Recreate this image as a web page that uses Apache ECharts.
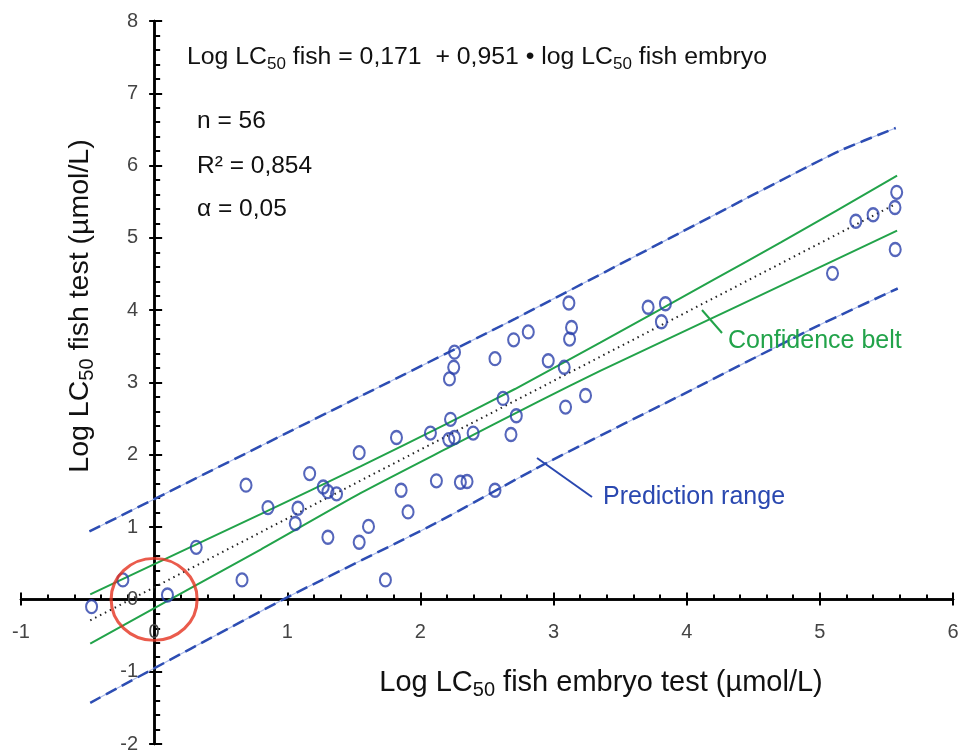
<!DOCTYPE html>
<html>
<head>
<meta charset="utf-8">
<script src="https://cdn.jsdelivr.net/npm/echarts@6/dist/echarts.min.js"></script>
<style>
  html, body { margin: 0; padding: 0; background: #fff; }
  #main { width: 960px; height: 753px; }
</style>
</head>
<body>
<div id="main"></div>
<script>
// axis ranges / ticks
var xRange = [-1, 6];
var yRange = [-2, 8];
var tickStep = 1;

// measured points: log LC50 fish embryo test vs log LC50 fish test
var embryoX = [-0.47, -0.235, 0.10, 0.316, 0.66, 0.69, 0.855, 1.06, 1.08, 1.168,
  1.27, 1.305, 1.37, 1.305, 1.54, 1.54, 1.61, 1.737, 1.82, 1.855,
  1.907, 2.075, 2.12, 2.256, 2.25, 2.218, 2.56, 2.70, 2.81, 3.135,
  3.12, 2.96, 3.08, 3.24, 3.09, 2.62, 2.72, 2.68, 2.226, 2.213,
  2.256, 2.396, 2.30, 2.35, 2.56, 3.115, 3.71, 3.84, 3.81, 5.577,
  5.564, 5.40, 5.27, 5.566, 5.095];
var fishY = [-0.10, 0.27, 0.06, 0.72, 0.27, 1.58, 1.27, 1.05, 1.26, 1.74,
  1.555, 1.49, 1.46, 0.86, 2.03, 0.79, 1.01, 0.27, 2.24, 1.51,
  1.21, 2.30, 1.64, 3.42, 3.21, 3.05, 3.33, 3.59, 3.70, 3.76,
  3.60, 3.30, 3.21, 2.82, 2.66, 2.78, 2.54, 2.28, 2.49, 2.21,
  2.24, 2.30, 1.62, 1.63, 1.51, 4.10, 4.04, 4.09, 3.84, 5.63,
  5.42, 5.32, 5.23, 4.84, 4.51];

// regression line (ends)
var regX = [-0.48, 5.55];
var regY = [-0.29, 5.45];

// confidence belt
var confUpperX = [-0.48, 0.80, 1.55, 2.20, 2.71, 3.35, 4.20, 4.71, 5.58];
var confUpperY = [0.07, 1.18, 1.84, 2.43, 2.91, 3.55, 4.42, 4.94, 5.86];
var confLowerX = [-0.48, 0.80, 1.55, 2.20, 2.90, 3.35, 4.41, 5.58];
var confLowerY = [-0.61, 0.69, 1.47, 2.09, 2.75, 3.16, 4.08, 5.10];

// prediction range
var predUpperX = [-0.486, 1.55, 2.71, 3.96, 5.12, 5.57];
var predUpperY = [0.94, 2.81, 3.88, 5.08, 6.18, 6.52];
var predLowerX = [-0.48, 0.97, 2.10, 2.95, 4.105, 4.98, 5.585];
var predLowerY = [-1.43, 0.0, 1.04, 1.89, 2.96, 3.78, 4.30];

// highlighted origin
var originPt = [0, 0];

function zip(a, b) {
  return a.map(function(v, i) { return [v, b[i]]; });
}

var FONT = '"Liberation Sans", Arial, sans-serif';
var W = 960, H = 753;
var gridL = 21, gridR = 7, gridT = 21, gridB = 9;
var plotW = W - gridL - gridR, plotH = H - gridT - gridB;
// where the zero lines sit inside the plot (axes cross at the origin)
var zeroFromLeft = (0 - xRange[0]) / (xRange[1] - xRange[0]) * plotW;
var zeroFromBottom = (0 - yRange[0]) / (yRange[1] - yRange[0]) * plotH;

var chart = echarts.init(document.getElementById('main'));

function richLC(color, size, subSize) {
  return {
    m: { fontSize: size, fontFamily: FONT, fill: color, color: color, lineHeight: size + 6, verticalAlign: 'middle' },
    s: { fontSize: subSize, fontFamily: FONT, fill: color, color: color, lineHeight: subSize + 6, verticalAlign: 'bottom' }
  };
}

function txt(x, y, text, opts) {
  opts = opts || {};
  var color = opts.color || '#111';
  var size = opts.size || 20;
  return {
    type: 'text',
    x: x, y: y,
    rotation: opts.rotation || 0,
    z: 100,
    style: {
      text: text,
      rich: richLC(color, size, opts.sub || Math.round(size * 0.7)),
      fontSize: size, fontFamily: FONT, fill: color,
      align: opts.align || 'left', textAlign: opts.align || 'left',
      verticalAlign: 'middle', textVerticalAlign: 'middle'
    }
  };
}

var axisLineStyle = { color: '#000', width: 2.5 };
var tickLineStyle = { color: '#000', width: 2 };

var option = {
  backgroundColor: '#fff',
  animation: false,
  grid: { left: gridL, right: gridR, top: gridT, bottom: gridB, containLabel: false, outerBoundsMode: 'none' },
  xAxis: [{
    type: 'value', min: xRange[0], max: xRange[1], interval: tickStep,
    position: 'bottom', offset: -zeroFromBottom,
    axisLine: { onZero: false, lineStyle: axisLineStyle },
    axisTick: { inside: true, length: 7, lineStyle: tickLineStyle },
    minorTick: { show: true, splitNumber: 5, length: 5, lineStyle: tickLineStyle },
    axisLabel: { margin: 23, fontSize: 20, color: '#444', fontFamily: FONT },
    splitLine: { show: false }
  }, {
    type: 'value', min: xRange[0], max: xRange[1], interval: tickStep,
    position: 'top', offset: -(plotH - zeroFromBottom),
    axisLine: { onZero: false, lineStyle: axisLineStyle },
    axisTick: { inside: true, length: 6, lineStyle: tickLineStyle },
    axisLabel: { show: false },
    splitLine: { show: false }
  }],
  yAxis: [{
    type: 'value', min: yRange[0], max: yRange[1], interval: tickStep,
    position: 'left', offset: -zeroFromLeft,
    axisLine: { onZero: false, lineStyle: axisLineStyle },
    axisTick: { inside: true, length: 8, lineStyle: tickLineStyle },
    minorTick: { show: true, splitNumber: 5, length: 6, lineStyle: tickLineStyle },
    axisLabel: { margin: 16, fontSize: 20, color: '#444', fontFamily: FONT },
    splitLine: { show: false }
  }, {
    type: 'value', min: yRange[0], max: yRange[1], interval: tickStep,
    position: 'right', offset: -(plotW - zeroFromLeft),
    axisLine: { onZero: false, lineStyle: axisLineStyle },
    axisTick: { inside: true, length: 5, lineStyle: tickLineStyle },
    axisLabel: { show: false },
    splitLine: { show: false }
  }],
  series: [
    {
      name: 'prediction upper base', type: 'line', data: zip(predUpperX, predUpperY),
      showSymbol: false, smooth: 0.2, z: 2, silent: true,
      lineStyle: { color: '#a9b9ea', width: 1.2 }
    },
    {
      name: 'prediction upper', type: 'line', data: zip(predUpperX, predUpperY),
      showSymbol: false, smooth: 0.2, z: 3,
      lineStyle: { color: '#2d4db3', width: 2.5, type: [12, 6] }
    },
    {
      name: 'prediction lower base', type: 'line', data: zip(predLowerX, predLowerY),
      showSymbol: false, smooth: 0.2, z: 2, silent: true,
      lineStyle: { color: '#a9b9ea', width: 1.2 }
    },
    {
      name: 'prediction lower', type: 'line', data: zip(predLowerX, predLowerY),
      showSymbol: false, smooth: 0.2, z: 3,
      lineStyle: { color: '#2d4db3', width: 2.5, type: [12, 6] }
    },
    {
      name: 'confidence upper', type: 'line', data: zip(confUpperX, confUpperY),
      showSymbol: false, smooth: 0.2, z: 4,
      lineStyle: { color: '#22a34a', width: 2 }
    },
    {
      name: 'confidence lower', type: 'line', data: zip(confLowerX, confLowerY),
      showSymbol: false, smooth: 0.2, z: 4,
      lineStyle: { color: '#22a34a', width: 2 }
    },
    {
      name: 'regression', type: 'line', data: zip(regX, regY),
      showSymbol: false, z: 4,
      lineStyle: { color: '#222', width: 2, type: [1.5, 4] }
    },
    {
      name: 'data', type: 'scatter', data: zip(embryoX, fishY),
      symbol: 'circle', symbolSize: [11, 13], z: 6,
      itemStyle: { color: 'rgba(0,0,0,0)', borderColor: '#2a40aa', borderWidth: 2.2 }
    },
    {
      name: 'origin', type: 'scatter', data: [originPt],
      symbol: 'circle', symbolSize: [86, 82], z: 7, silent: true,
      itemStyle: { color: 'rgba(0,0,0,0)', borderColor: '#e5321f', borderWidth: 3 }
    }
  ],
  graphic: [
    txt(187, 57, '{m|Log LC}{s|50}{m| fish = 0,171  + 0,951 • log LC}{s|50}{m| fish embryo}', { size: 24.8, sub: 17 }),
    txt(197, 121, 'n = 56', { size: 24.5 }),
    txt(197, 166, 'R² = 0,854', { size: 24.5 }),
    txt(197, 209, 'α = 0,05', { size: 24.5 }),
    txt(80, 306, '{m|Log LC}{s|50}{m| fish test (µmol/L)}', { size: 28.5, sub: 20, align: 'center', rotation: Math.PI / 2 }),
    txt(601, 683, '{m|Log LC}{s|50}{m| fish embryo test (µmol/L)}', { size: 29, sub: 20, align: 'center' }),
    txt(728, 341, 'Confidence belt', { size: 25, color: '#22a34a' }),
    txt(603, 497, 'Prediction range', { size: 25, color: '#2a48b0' }),
    { type: 'line', z: 100, shape: { x1: 702, y1: 310, x2: 722, y2: 333 }, style: { stroke: '#22a34a', lineWidth: 2 } },
    { type: 'line', z: 100, shape: { x1: 537, y1: 458, x2: 592, y2: 497 }, style: { stroke: '#2a48b0', lineWidth: 2 } }
  ]
};
chart.setOption(option);
</script>
</body>
</html>
